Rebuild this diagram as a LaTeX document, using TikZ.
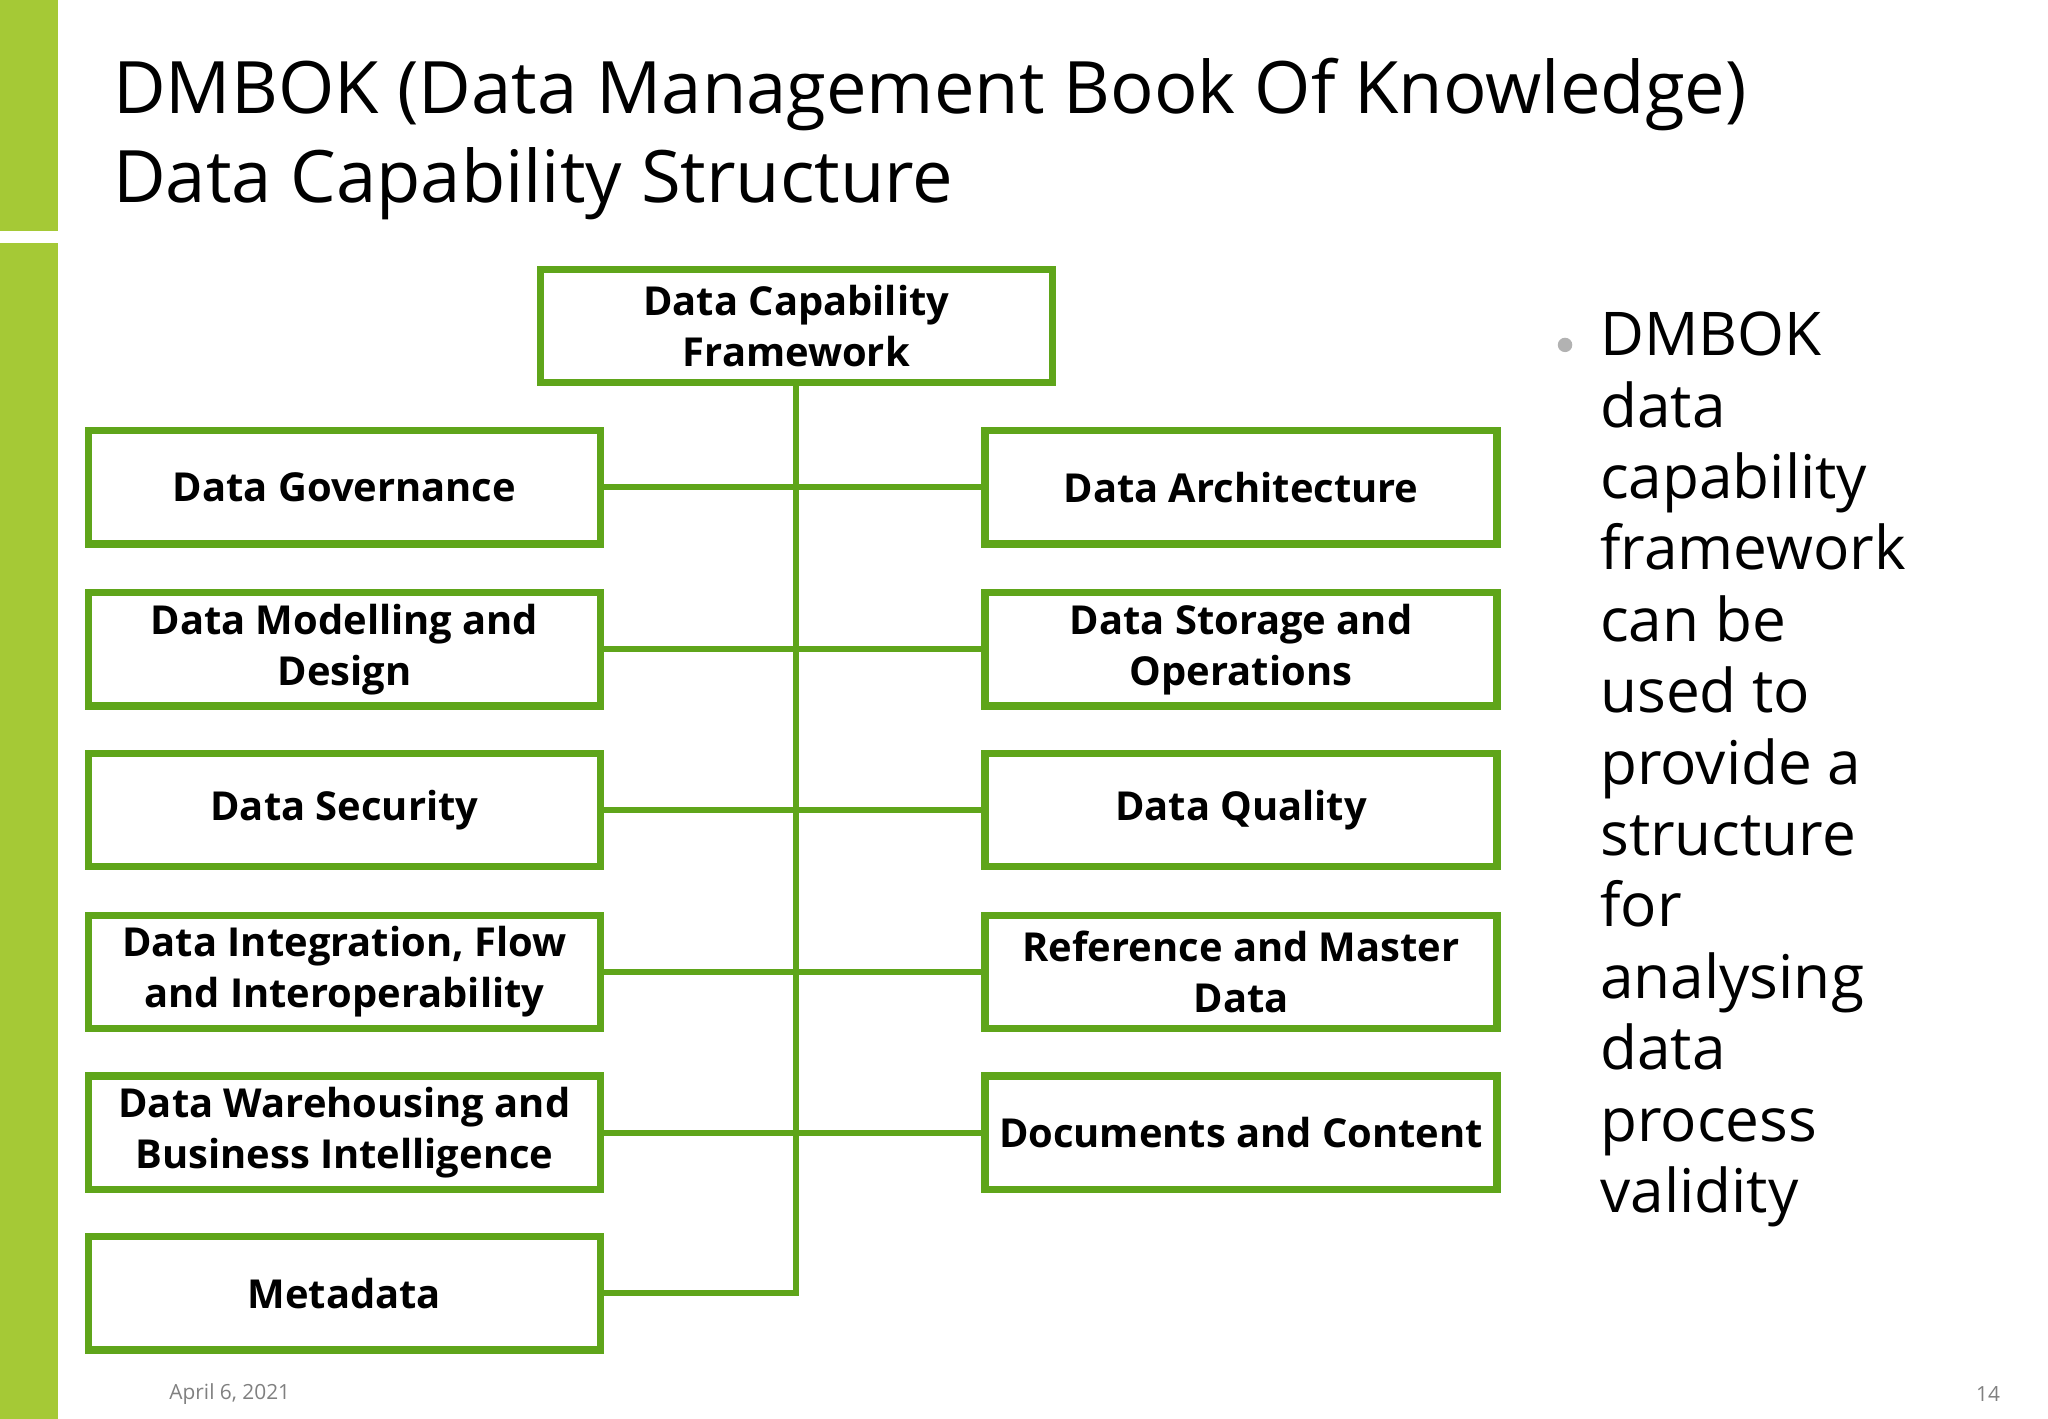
\documentclass[tikz,border=0pt]{standalone}
\usepackage{fontspec}
\setmainfont{Open Sans}
\usetikzlibrary{positioning}
\definecolor{barGreen}{HTML}{A5C936}
\definecolor{lineGreen}{HTML}{5FA51A}
\tikzset{
  capbox/.style={draw=lineGreen, line width=1.6pt, minimum width=3.88cm, minimum height=0.86cm,
    align=center, font=\fontsize{8.6}{11}\selectfont\bfseries, inner sep=1pt},
  link/.style={draw=lineGreen, line width=1.3pt}
}
\begin{document}
\begin{tikzpicture}[x=1cm,y=0.99cm]
  \useasboundingbox (0,0) rectangle (15.52,-10.86);
  % side bar
  \fill[barGreen] (0,0) rectangle (0.44,-1.77);
  \fill[barGreen] (0,-1.86) rectangle (0.44,-10.86);
  % title
  \node[anchor=north west, align=left, font=\fontsize{15.6}{19.2}\selectfont, inner sep=0pt] (title)
    at (0.85,-0.44) {DMBOK (Data Management Book Of Knowledge)\\Data Capability Structure};
  % boxes
  \node[capbox] (top) at (6.035,-2.495) {Data Capability\\Framework};
  \node[capbox] (l1) at (2.61,-3.73) {Data Governance};
  \node[capbox] (l2) at (2.61,-4.97) {Data Modelling and\\Design};
  \node[capbox] (l3) at (2.61,-6.20) {Data Security};
  \node[capbox] (l4) at (2.61,-7.44) {Data Integration, Flow\\and Interoperability};
  \node[capbox] (l5) at (2.61,-8.67) {Data Warehousing and\\Business Intelligence};
  \node[capbox] (l6) at (2.61,-9.90) {Metadata};
  \node[capbox] (r1) at (9.405,-3.73) {Data Architecture};
  \node[capbox] (r2) at (9.405,-4.97) {Data Storage and\\Operations};
  \node[capbox] (r3) at (9.405,-6.20) {Data Quality};
  \node[capbox] (r4) at (9.405,-7.44) {Reference and Master\\Data};
  \node[capbox] (r5) at (9.405,-8.67) {Documents and Content};
  % connectors
  \draw[link] (top.south) |- (l6.east);
  \foreach \i in {1,...,5}{
    \draw[link] (l\i.east) -- (r\i.west);
  }
  % bullet text
  \node[anchor=north west, align=left, font=\fontsize{13}{15.4}\selectfont, inner sep=0pt] (note)
    at (12.12,-2.38) {DMBOK\\data\\capability\\framework\\can be\\used to\\provide a\\structure\\for\\analysing\\data\\process\\validity};
  \fill[gray!60] (11.86,-2.64) circle (0.055);
  % footer
  \node[anchor=west, font=\fontsize{4.5}{5}\selectfont, text=gray] (date) at (1.16,-10.67) {April 6, 2021};
  \node[anchor=east, font=\fontsize{4.5}{5}\selectfont, text=gray] (page) at (15.28,-10.67) {14};
\end{tikzpicture}
\end{document}
